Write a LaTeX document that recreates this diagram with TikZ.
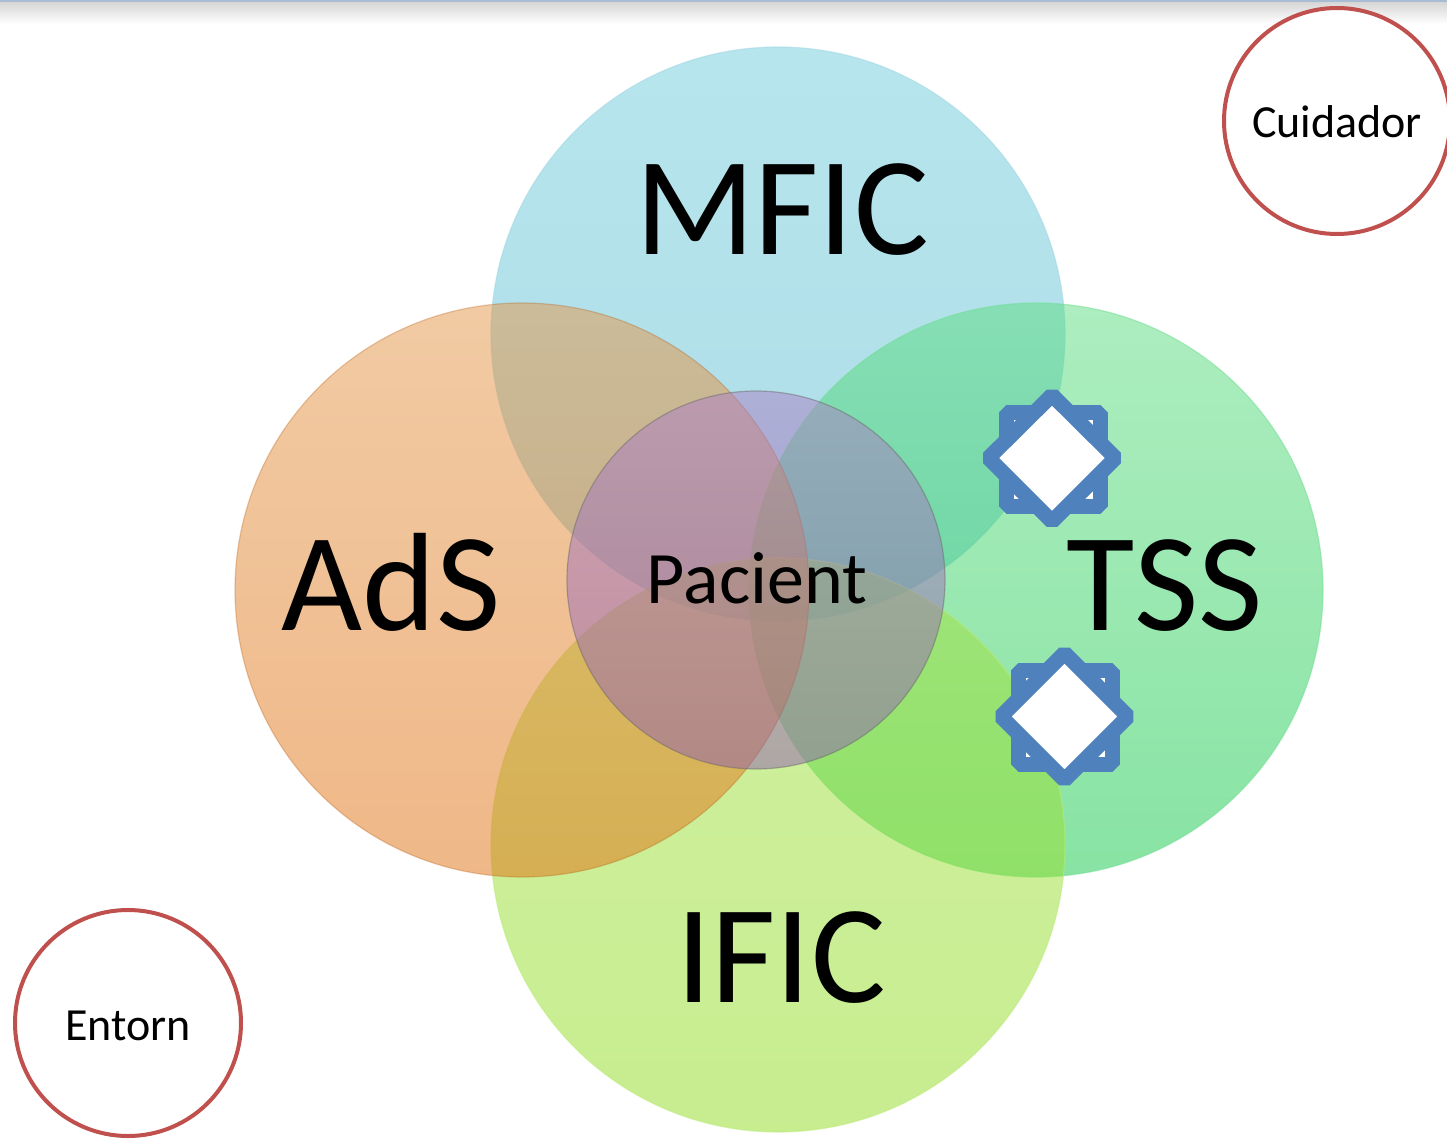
\documentclass[tikz,border=0pt]{standalone}
\usepackage{fontspec}
\setmainfont{Carlito}
\definecolor{mficT}{HTML}{71CDDD}
\definecolor{mficB}{HTML}{5BBBD1}
\definecolor{adsT}{HTML}{E59749}
\definecolor{adsB}{HTML}{E17111}
\definecolor{tssT}{HTML}{5DDD81}
\definecolor{tssB}{HTML}{11C949}
\definecolor{ificT}{HTML}{A1E141}
\definecolor{ificB}{HTML}{91DD21}
\definecolor{pacT}{HTML}{AC80C6}
\definecolor{pacB}{HTML}{9060B0}
\definecolor{ringred}{HTML}{C0504D}
\definecolor{starblue}{HTML}{4F81BD}
\definecolor{topline}{HTML}{A8BCD4}
\begin{document}
\begin{tikzpicture}[x=1pt,y=-1pt,
  venn/.style={circle, inner sep=0, minimum size=#1, line width=1.2pt, fill opacity=0.5, draw opacity=0.5},
  bigtxt/.style={font=\fontsize{140}{140}\selectfont, anchor=base, inner sep=0, text=black},
  midtxt/.style={font=\fontsize{74}{74}\selectfont, anchor=base, inner sep=0, text=black},
  smalltxt/.style={font=\fontsize{46}{46}\selectfont, anchor=base, inner sep=0, text=black},
  ring/.style={circle, inner sep=0, minimum size=226, draw=ringred, line width=4pt, fill=white},
  starsq/.style={draw=starblue, line width=15pt, fill=white, line join=bevel},
]
\useasboundingbox (0,0) rectangle (1447,1139);
\fill[white] (0,0) rectangle (1447,1139);
\shade[top color=black!16, bottom color=white] (0,2) rectangle (1447,24);
\fill[topline] (0,0) rectangle (1447,2.5);

% Venn circles
\node[venn=574, top color=mficT, bottom color=mficB, draw=mficB!60!white] (mfic) at (778,334) {};
\node[venn=574, top color=tssT, bottom color=tssB, draw=tssB!60!white] (tss) at (1036,590) {};
\node[venn=574, top color=ificT, bottom color=ificB, draw=ificB!60!white] (ific) at (778,845) {};
\node[venn=574, top color=adsT, bottom color=adsB, draw=adsB!80!black, draw opacity=0.3] (ads) at (522,590) {};
\node[venn=378, top color=pacT, bottom color=pacB, draw=black!60, draw opacity=0.45] (pac) at (756,580) {};

% Labels
\node[bigtxt] (mficL) at (782,255) {MFIC};
\node[bigtxt] (adsL) at (391,630) {AdS};
\node[bigtxt] (tssL) at (1165,630) {TSS};
\node[bigtxt] (ificL) at (781,1002) {IFIC};
\node[midtxt] (pacL) at (757,603) {Pacient};

% Star-like markers
\draw[starsq] (1006,412) rectangle (1100,506);
\draw[starsq] (1052,395) -- (1115.5,458) -- (1052,521.5) -- (988.5,458) -- cycle;
\draw[starsq] (1018,670) rectangle (1112,764);
\draw[starsq] (1064.5,653) -- (1128,716.5) -- (1064.5,780) -- (1001,716.5) -- cycle;

% Outer rings
\node[ring] (cuid) at (1337,121) {};
\node[smalltxt] (cuidL) at (1337,138) {Cuidador};
\node[ring] (ent) at (128,1023) {};
\node[smalltxt] (entL) at (128,1040) {Entorn};
\end{tikzpicture}
\end{document}
